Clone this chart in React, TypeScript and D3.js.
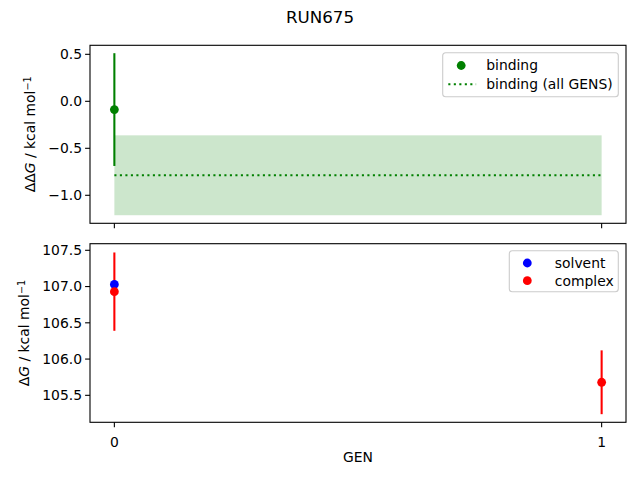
import React from 'react';
import * as d3 from 'd3';

// values
const gens = [0, 1];
const bindingGens = [0];
const bindingValues = [-0.088];
const bindingErrors = [0.6];
const bindingAllMean = -0.787;
const bindingAllError = 0.425;

const solventGens = [0];
const solventValues = [107.03];
const complexGens = [0, 1];
const complexValues = [106.93, 105.68];
const complexErrors = [0.54, 0.44];

const topTicks = [0.5, 0.0, -0.5, -1.0];
const bottomTicks = [107.5, 107.0, 106.5, 106.0, 105.5];

const FONT = 'DejaVu Sans, Liberation Sans, sans-serif';
const W = 640;
const H = 480;
const left = 90;
const right = 626;
const top1 = 45.3;
const bottom1 = 223.3;
const top2 = 243.7;
const bottom2 = 422.3;

const fmt = (v: number) => d3.format('.1f')(v).replace('-', '\u2212');

const YAxis: React.FC<{ scale: d3.ScaleLinear<number, number>; ticks: number[] }> = ({ scale, ticks }) => (
  <g>
    {ticks.map((t) => (
      <g key={t} transform={`translate(${left},${scale(t)})`}>
        <line x1={-4.9} x2={0} stroke="#000" strokeWidth={1.1} />
        <text x={-8} dy="0.35em" textAnchor="end" fontSize={13.9} fontFamily={FONT} fill="#000">
          {fmt(t)}
        </text>
      </g>
    ))}
  </g>
);

const Frame: React.FC<{ y0: number; y1: number }> = ({ y0, y1 }) => (
  <rect x={left} y={y0} width={right - left} height={y1 - y0} fill="none" stroke="#000" strokeWidth={1.1} />
);

export default function App() {
  const x = d3.scaleLinear().domain([-0.05, 1.05]).range([left, right]);
  const y1 = d3.scaleLinear().domain([-1.298, 0.596]).range([bottom1, top1]);
  const y2 = d3.scaleLinear().domain([105.128, 107.591]).range([bottom2, top2]);

  const bandX0 = x(0);
  const bandX1 = x(1);

  return (
    <svg
      width={W}
      height={H}
      style={{ position: 'absolute', left: 0, top: 0, background: '#fff' }}
    >
      <rect width={W} height={H} fill="#fff" />
      <text x={W / 2} y={17} dy="0.35em" textAnchor="middle" fontSize={16.7} fontFamily={FONT}>
        RUN675
      </text>

      {/* top panel: binding free energy */}
      <g>
        <rect
          x={bandX0}
          y={y1(bindingAllMean + bindingAllError)}
          width={bandX1 - bandX0}
          height={y1(bindingAllMean - bindingAllError) - y1(bindingAllMean + bindingAllError)}
          fill="green"
          fillOpacity={0.2}
        />
        <line
          x1={bandX0}
          x2={bandX1}
          y1={y1(bindingAllMean)}
          y2={y1(bindingAllMean)}
          stroke="green"
          strokeWidth={2.08}
          strokeDasharray="2.1,3.4"
        />
        {bindingGens.map((g, i) => (
          <g key={g}>
            <line
              x1={x(g)}
              x2={x(g)}
              y1={y1(bindingValues[i] + bindingErrors[i])}
              y2={y1(bindingValues[i] - bindingErrors[i])}
              stroke="green"
              strokeWidth={2.08}
            />
            <circle cx={x(g)} cy={y1(bindingValues[i])} r={4.4} fill="green" />
          </g>
        ))}
        <Frame y0={top1} y1={bottom1} />
        <YAxis scale={y1} ticks={topTicks} />
        {gens.map((g) => (
          <line key={g} x1={x(g)} x2={x(g)} y1={bottom1} y2={bottom1 + 4.9} stroke="#000" strokeWidth={1.1} />
        ))}
        <text
          transform={`translate(30,${(top1 + bottom1) / 2}) rotate(-90)`}
          textAnchor="middle"
          dy="0.35em"
          fontSize={13.9}
          fontFamily={FONT}
        >
          ΔΔ<tspan fontStyle="italic">G</tspan> / kcal mol
          <tspan dy="-0.45em" fontSize={9.7}>−1</tspan>
        </text>
        {/* legend */}
        <g transform="translate(442.7,52.7)">
          <rect width={175.6} height={44} rx={3} fill="#fff" fillOpacity={0.8} stroke="#ccc" strokeWidth={1.1} />
          <circle cx={18.5} cy={12.8} r={4.4} fill="green" />
          <text x={43.5} y={12.8} dy="0.35em" fontSize={13.9} fontFamily={FONT}>binding</text>
          <line x1={5.6} x2={33.4} y1={31.6} y2={31.6} stroke="green" strokeWidth={2.08} strokeDasharray="2.1,3.4" />
          <text x={43.5} y={31.6} dy="0.35em" fontSize={13.9} fontFamily={FONT}>binding (all GENS)</text>
        </g>
      </g>

      {/* bottom panel: solvent and complex */}
      <g>
        {complexGens.map((g, i) => (
          <line
            key={g}
            x1={x(g)}
            x2={x(g)}
            y1={y2(complexValues[i] + complexErrors[i])}
            y2={y2(complexValues[i] - complexErrors[i])}
            stroke="red"
            strokeWidth={2.08}
          />
        ))}
        {solventGens.map((g, i) => (
          <circle key={g} cx={x(g)} cy={y2(solventValues[i])} r={4.4} fill="blue" />
        ))}
        {complexGens.map((g, i) => (
          <circle key={g} cx={x(g)} cy={y2(complexValues[i])} r={4.4} fill="red" />
        ))}
        <Frame y0={top2} y1={bottom2} />
        <YAxis scale={y2} ticks={bottomTicks} />
        {gens.map((g) => (
          <g key={g} transform={`translate(${x(g)},${bottom2})`}>
            <line y2={4.9} stroke="#000" strokeWidth={1.1} />
            <text y={15} dy="0.71em" textAnchor="middle" fontSize={13.9} fontFamily={FONT}>
              {g}
            </text>
          </g>
        ))}
        <text x={(left + right) / 2} y={457} dy="0.35em" textAnchor="middle" fontSize={13.9} fontFamily={FONT}>
          GEN
        </text>
        <text
          transform={`translate(24,${(top2 + bottom2) / 2}) rotate(-90)`}
          textAnchor="middle"
          dy="0.35em"
          fontSize={13.9}
          fontFamily={FONT}
        >
          Δ<tspan fontStyle="italic">G</tspan> / kcal mol
          <tspan dy="-0.45em" fontSize={9.7}>−1</tspan>
        </text>
        <g transform="translate(509.3,250.7)">
          <rect width={109} height={41} rx={3} fill="#fff" fillOpacity={0.8} stroke="#ccc" strokeWidth={1.1} />
          <circle cx={18} cy={12.3} r={4.4} fill="blue" />
          <text x={45.5} y={12.3} dy="0.35em" fontSize={13.9} fontFamily={FONT}>solvent</text>
          <circle cx={18} cy={30} r={4.4} fill="red" />
          <text x={45.5} y={30} dy="0.35em" fontSize={13.9} fontFamily={FONT}>complex</text>
        </g>
      </g>
    </svg>
  );
}
